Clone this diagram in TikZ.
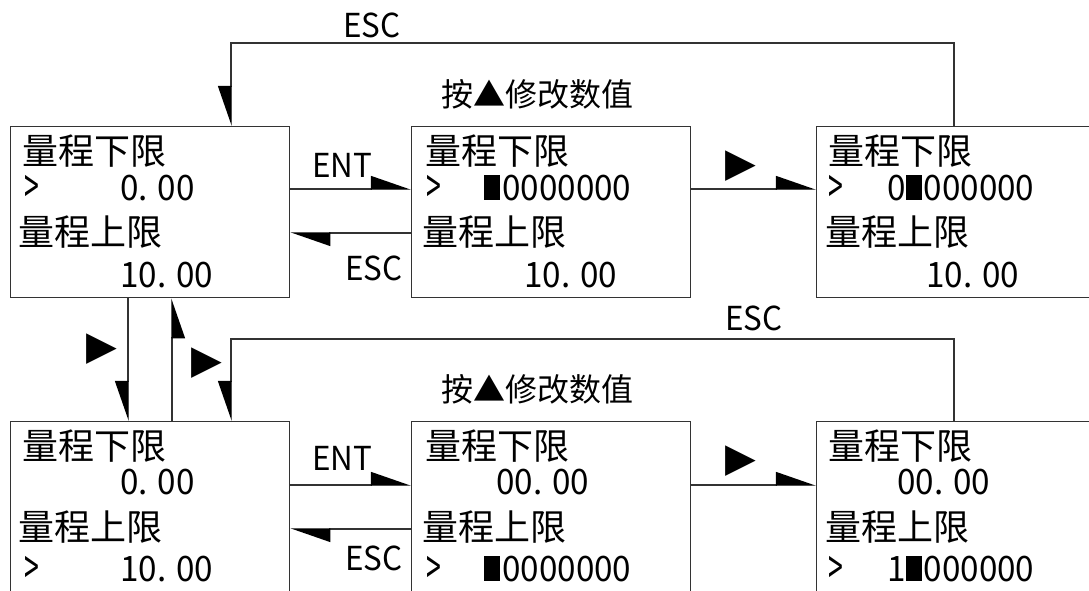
\documentclass[tikz,border=0pt]{standalone}
\usepackage{fontspec}
\setmainfont{Noto Sans CJK SC}
\newfontfamily\nar[FakeStretch=0.95]{Noto Sans CJK SC}
\newfontfamily\sym{DejaVu Sans}
\usetikzlibrary{arrows.meta}
\newcommand\blk{\rule{16pt}{25pt}\hspace{2pt}}
\newcommand\gtsign{\scalebox{0.8}[1.35]{\fontseries{l}\selectfont >}}
\begin{document}
\begin{tikzpicture}[x=1pt,y=-1pt,
  box/.style={draw=black!80, line width=1.4pt, minimum width=279pt, minimum height=171pt, inner sep=0, anchor=north west},
  ln/.style={draw=black!80, line width=1.4pt},
  arr/.style={ln, -{Triangle[harpoon,length=38pt,width=26pt,black]}},
  arrs/.style={ln, -{Triangle[harpoon,swap,length=38pt,width=26pt,black]}},
  cj/.style={font=\fontsize{36pt}{36pt}\selectfont, inner sep=0, anchor=west},
  dg/.style={font=\nar\fontsize{35pt}{35pt}\selectfont, inner sep=0, anchor=west},
  lab/.style={font=\nar\fontsize{33pt}{33pt}\selectfont, inner sep=0},
  hint/.style={font=\fontsize{32pt}{32pt}\selectfont, inner sep=0},
  tri/.style={font=\sym\fontsize{40pt}{40pt}\selectfont, inner sep=0},
]
\useasboundingbox (0,0) rectangle (1089,590);
\clip (0,0) rectangle (1089,590);
% boxes
\node[box] (b1) at (10,126) {};
\node[box] (b2) at (411,126) {};
\node[box] (b3) at (816,126) {};
\node[box] (b4) at (10,421) {};
\node[box] (b5) at (411,421) {};
\node[box] (b6) at (816,421) {};
% box 1
\node[cj] (t1a) at (22,151) {量程下限};
\node[dg] (t1b) at (24,189) {\gtsign};
\node[dg] (t1c) at (120,188) {0. 00};
\node[cj] (t1d) at (18,232) {量程上限};
\node[dg] (t1e) at (120,275) {10. 00};
% box 2
\node[cj] (t2a) at (425,151) {量程下限};
\node[dg] (t2b) at (426,189) {\gtsign};
\node[dg] (t2c) at (484,188) {\blk0000000};
\node[cj] (t2d) at (422,232) {量程上限};
\node[dg] (t2e) at (524,275) {10. 00};
% box 3
\node[cj] (t3a) at (828,151) {量程下限};
\node[dg] (t3b) at (828,189) {\gtsign};
\node[dg] (t3c) at (887,188) {0\blk000000};
\node[cj] (t3d) at (825,232) {量程上限};
\node[dg] (t3e) at (926,275) {10. 00};
% box 4
\node[cj] (t4a) at (22,446) {量程下限};
\node[dg] (t4c) at (120,482) {0. 00};
\node[cj] (t4d) at (18,527) {量程上限};
\node[dg] (t4b) at (24,570) {\gtsign};
\node[dg] (t4e) at (120,569) {10. 00};
% box 5
\node[cj] (t5a) at (425,446) {量程下限};
\node[dg] (t5c) at (496,482) {00. 00};
\node[cj] (t5d) at (422,527) {量程上限};
\node[dg] (t5b) at (426,570) {\gtsign};
\node[dg] (t5e) at (484,569) {\blk0000000};
% box 6
\node[cj] (t6a) at (828,446) {量程下限};
\node[dg] (t6c) at (897,482) {00. 00};
\node[cj] (t6d) at (825,527) {量程上限};
\node[dg] (t6b) at (828,570) {\gtsign};
\node[dg] (t6e) at (887,569) {1\blk000000};
% top row connectors
\draw[arrs] (b3.north -| 954,0) -- (954,43) -| (b1.north -| 231,0);
\node[lab] (l1) at (372,25) {ESC};
\node[hint] (h1) at (537,94) {按▲修改数值};
\draw[arr] (b1.east |- 0,189) -- (b2.west |- 0,189);
\node[lab] (l2) at (342,165) {ENT};
\draw[arr] (b2.west |- 0,233) -- (b1.east |- 0,233);
\node[lab] (l3) at (374,268) {ESC};
\draw[arr] (b2.east |- 0,189) -- (b3.west |- 0,189);
\node[tri] (l4) at (741,166) {▶};
% vertical connectors
\draw[arrs] (b1.south -| 128,0) -- (b4.north -| 128,0);
\node[tri] (l5) at (102,349) {▶};
\draw[arrs] (b4.north -| 172,0) -- (b1.south -| 172,0);
\node[tri] (l6) at (207,363) {▶};
% bottom row connectors
\draw[arrs] (b6.north -| 954,0) -- (954,339) -| (b4.north -| 231,0);
\node[lab] (l7) at (754,318) {ESC};
\node[hint] (h2) at (537,389) {按▲修改数值};
\draw[arr] (b4.east |- 0,485) -- (b5.west |- 0,485);
\node[lab] (l8) at (342,458) {ENT};
\draw[arr] (b5.west |- 0,529) -- (b4.east |- 0,529);
\node[lab] (l9) at (374,558) {ESC};
\draw[arr] (b5.east |- 0,485) -- (b6.west |- 0,485);
\node[tri] (l10) at (741,461) {▶};
\end{tikzpicture}
\end{document}
